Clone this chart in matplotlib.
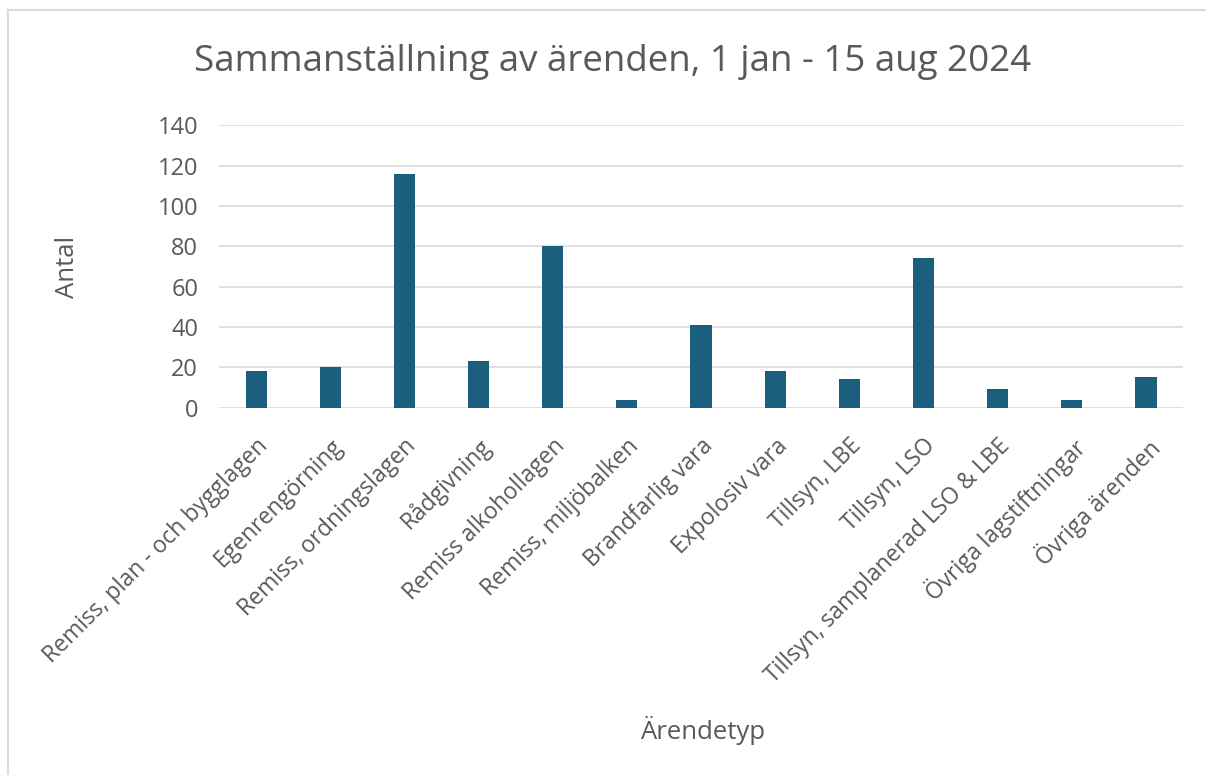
import matplotlib.pyplot as plt
import numpy as np

# data
kategorier = [
    'Remiss, plan - och bygglagen', 'Egenrengörning', 'Remiss, ordningslagen',
    'Rådgivning', 'Remiss alkohollagen', 'Remiss, miljöbalken',
    'Brandfarlig vara', 'Expolosiv vara', 'Tillsyn, LBE', 'Tillsyn, LSO',
    'Tillsyn, samplanerad LSO & LBE', 'Övriga lagstiftningar', 'Övriga ärenden',
]
antal = [18, 20, 116, 23, 80, 4, 41, 18, 14, 74, 9, 4, 15]
y_ticks = [0, 20, 40, 60, 80, 100, 120, 140]

plt.rcParams['font.family'] = ['Open Sans', 'DejaVu Sans']
grey_text = '#595959'

fig = plt.figure(figsize=(12.06, 7.75), dpi=100)
ax = fig.add_axes([0.1816, 0.474, 0.7994, 0.3644])

x = np.arange(len(kategorier))
ax.bar(x, antal, width=0.285, color='#1b5e7e', zorder=3)

ax.set_xlim(-0.5, len(kategorier) - 0.5)
ax.set_ylim(0, 140)
ax.set_yticks(y_ticks)
ax.set_yticklabels([str(v) for v in y_ticks], fontsize=17, color=grey_text)
ax.set_xticks(x)
ax.set_xticklabels(kategorier, rotation=45, ha='right', rotation_mode='anchor',
                   fontsize=16.5, color=grey_text)
ax.tick_params(axis='both', length=0)
ax.tick_params(axis='y', pad=15)
ax.tick_params(axis='x', pad=19)

ax.grid(axis='y', color='#d9d9d9', linewidth=1.2, zorder=0)
for s in ax.spines.values():
    s.set_visible(False)

fig.text(0.508, 0.92, 'Sammanställning av ärenden, 1 jan - 15 aug 2024',
         ha='center', va='center', fontsize=26.5, color=grey_text)
fig.text(67 / 1206, 1 - 267 / 775, 'Antal', rotation=90, ha='center', va='center',
         fontsize=18.5, color=grey_text)
fig.text(703 / 1206, 1 - 730 / 775, 'Ärendetyp', ha='center', va='center',
         fontsize=18.5, color=grey_text)

# frame of the chart area
fig.add_artist(plt.Line2D([8 / 1206, 8 / 1206], [0, 1 - 10 / 775],
                          transform=fig.transFigure, color='#d9d9d9', linewidth=1.5))
fig.add_artist(plt.Line2D([8 / 1206, 1], [1 - 10 / 775, 1 - 10 / 775],
                          transform=fig.transFigure, color='#d9d9d9', linewidth=1.5))

fig.savefig('out.png', dpi=100)
